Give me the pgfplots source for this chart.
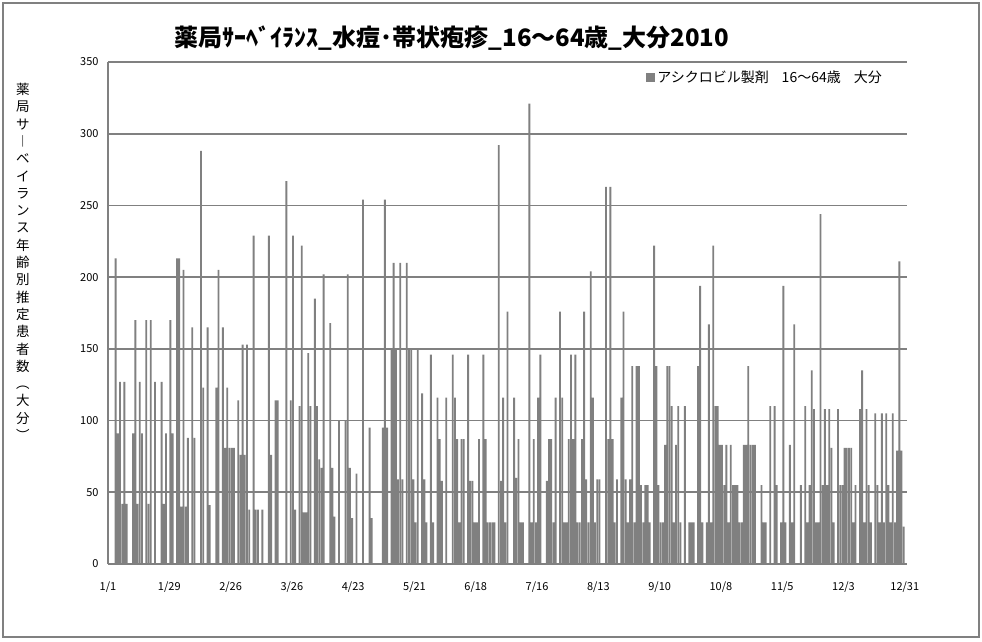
\documentclass[border=0pt]{standalone}
\usepackage{pgfplots}
\usepackage{pgfplotstable}
\pgfplotsset{compat=1.18}
\usepackage{fontspec}
\setmainfont{Noto Sans CJK JP}
\definecolor{bargray}{HTML}{808080}
\pgfplotstableread{
d v
3 213
4 91
5 127
6 42
7 127
8 42
11 91
12 170
13 42
14 127
15 91
17 170
18 42
19 170
21 127
24 127
25 42
26 91
28 170
29 91
31 213
32 213
33 40
34 205
35 40
36 88
38 165
39 88
42 288
43 123
45 165
46 41
49 123
50 205
52 165
53 81
54 123
55 81
56 81
57 81
59 114
60 76
61 153
62 76
63 153
64 38
66 229
67 38
68 38
70 38
73 229
74 76
76 114
77 114
81 267
83 114
84 229
85 38
87 110
88 222
89 36
90 36
91 147
92 110
94 185
95 110
96 73
97 67
98 202
101 168
102 67
103 33
105 100
108 100
109 202
110 67
111 32
113 63
116 254
119 95
120 32
125 95
126 254
127 95
129 150
130 210
131 150
132 59
133 210
134 59
136 210
137 150
138 150
139 59
140 29
141 150
143 119
144 59
145 29
147 146
148 29
150 116
151 87
152 58
154 116
157 146
158 116
159 87
160 29
161 87
162 87
164 146
165 58
166 58
167 29
168 29
169 87
171 146
172 87
173 29
174 29
175 29
176 29
178 292
179 58
180 116
181 29
182 176
185 116
186 60
187 87
188 29
189 29
192 321
193 29
194 87
195 29
196 116
197 146
200 58
201 87
202 87
203 29
204 116
206 176
207 116
208 29
209 29
210 87
211 146
212 87
213 146
214 29
215 29
216 87
217 176
218 59
219 29
220 204
221 116
222 29
223 59
224 59
227 263
228 87
229 263
230 87
231 29
232 59
234 116
235 176
236 59
237 29
238 59
239 138
240 29
241 138
242 138
243 55
244 29
245 55
246 55
247 29
249 222
250 138
251 55
252 29
253 29
254 83
255 138
256 138
257 110
258 29
259 83
260 110
261 29
263 110
265 29
266 29
267 29
269 138
270 194
271 29
273 29
274 167
275 29
276 222
277 110
278 110
279 83
280 83
281 55
282 83
283 29
284 83
285 55
286 55
287 55
288 29
289 29
290 83
291 83
292 138
293 83
294 83
295 83
298 55
299 29
300 29
302 110
304 110
305 55
307 29
308 194
309 29
311 83
312 29
313 167
316 55
318 110
319 29
320 55
321 135
322 108
323 29
324 29
325 244
326 55
327 108
328 55
329 108
330 81
331 29
333 108
334 55
335 55
336 81
337 81
338 81
339 81
340 29
341 55
343 108
344 135
345 29
346 108
347 55
348 29
350 105
351 55
352 29
353 105
354 29
355 105
356 55
357 29
358 105
359 29
360 79
361 211
362 79
363 26
}\datatable
\begin{document}
\begin{tikzpicture}[x=1pt,y=1pt]
\fill[white] (0,0) rectangle (982,641);
\draw[bargray, line width=1.3pt] (3,4) rectangle (979,638);
\node[font=\fontsize{24}{28}\selectfont\bfseries, inner sep=0pt] at (452,603) {薬局ｻｰﾍﾞｲﾗﾝｽ\_水痘･帯状疱疹\_16～64歳\_大分2010};
\node[font=\fontsize{13.5}{17.3}\selectfont, align=center, anchor=north, inner sep=0pt] at (23,558) {薬\\局\\サ\\︱\\ベ\\イ\\ラ\\ン\\ス\\年\\齢\\別\\推\\定\\患\\者\\数\\︵\\大\\分\\︶};
\begin{axis}[
  at={(108pt,77pt)}, anchor=south west,
  scale only axis, width=799pt, height=502pt,
  xmin=0, xmax=365, ymin=0, ymax=350,
  axis x line*=bottom, axis y line*=left,
  axis line style={bargray, line width=1.6pt, -},
  ymajorgrids, grid style={bargray, line width=1.6pt},
  ytick={0,50,...,350},
  xtick={0,28,56,84,112,140,168,196,224,252,280,308,336,364},
  xticklabels={1/1,1/29,2/26,3/26,4/23,5/21,6/18,7/16,8/13,9/10,10/8,11/5,12/3,12/31},
  major tick length=0pt,
  tick label style={font=\fontsize{11}{13}\selectfont},
  /pgf/number format/assume math mode=true,
  xticklabel shift=14pt,
  yticklabel shift=6pt,
  legend style={at={(0.975,0.99)}, anchor=north east, draw=none, fill=none, font=\fontsize{14}{16}\selectfont},
  legend image code/.code={\fill[bargray] (0pt,-4.5pt) rectangle (9pt,4.5pt);},
]
\addplot[ybar, bar width=0.85, fill=bargray, draw=none] table[x expr=\thisrow{d}+0.5, y=v] {\datatable};
\addlegendentry{アシクロビル製剤\hspace{13pt}16～64歳\hspace{13pt}大分}
\end{axis}
\end{tikzpicture}
\end{document}
